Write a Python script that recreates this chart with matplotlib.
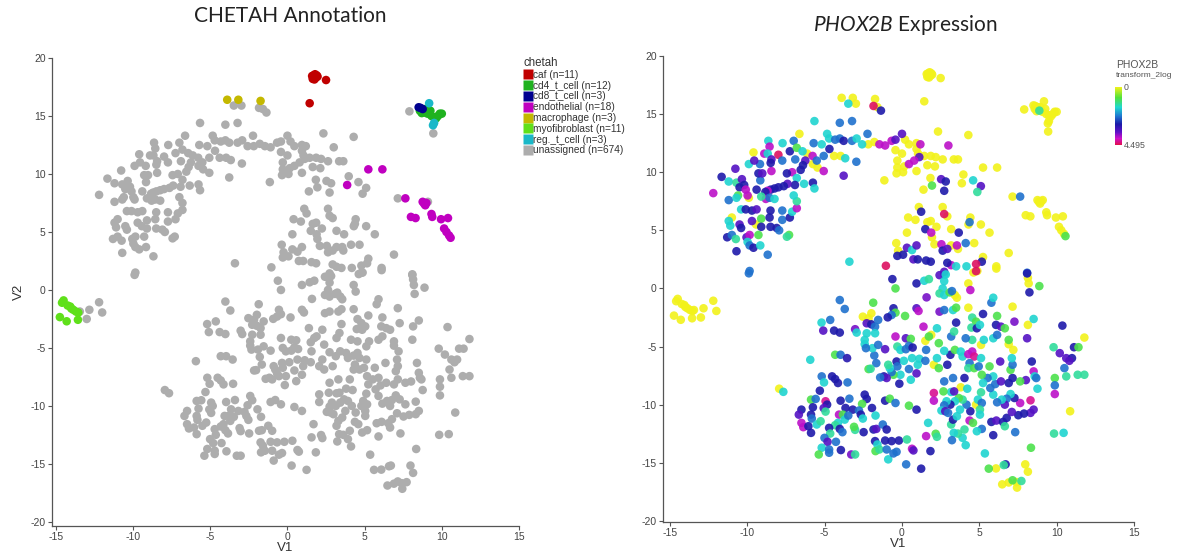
import matplotlib
matplotlib.use('Agg')
import matplotlib.pyplot as plt
from matplotlib.colors import LinearSegmentedColormap, Normalize
from matplotlib.lines import Line2D
import matplotlib.cm as cm

plt.rcParams['font.family'] = ['Liberation Sans', 'DejaVu Sans']
plt.rcParams['mathtext.fontset'] = 'custom'
plt.rcParams['mathtext.rm'] = 'Lato'
plt.rcParams['mathtext.it'] = 'Lato:italic'
plt.rcParams['axes.unicode_minus'] = False

# ---------------- data: (V1, V2, PHOX2B transform_2log) ----------------
caf = [(1.69, 18.5, 0), (1.84, 18.3, 0), (1.64, 18.2, 0), (1.79, 18.6, 0), (1.95, 18.4, 0),
       (1.6, 18.45, 0), (1.75, 18.15, 0), (1.9, 18.5, 0), (2.5, 18.1, 0), (1.44, 16.1, 0), (1.7, 18.35, 0)]
cd4_t_cell = [(8.58, 15.45, 0), (8.88, 15.3, 1.3), (9.08, 15.2, 0), (9.26, 15.45, 0), (9.5, 14.9, 0),
              (9.75, 15.0, 0), (9.87, 15.2, 0), (10.0, 15.2, 0), (9.63, 14.8, 0), (8.93, 15.6, 0),
              (8.7, 15.25, 0), (9.33, 15.0, 0)]
cd8_t_cell = [(8.5, 15.75, 0), (8.76, 15.6, 0), (8.62, 15.7, 0)]
endothelial = [(3.87, 9.05, 0), (5.24, 10.4, 0), (6.15, 10.4, 0), (7.64, 7.9, 2.3), (8.76, 7.6, 0),
               (8.93, 7.3, 0), (8.0, 6.3, 0), (8.3, 6.2, 0), (9.33, 6.55, 0), (9.38, 6.3, 0),
               (9.95, 6.1, 0), (10.4, 6.2, 0), (10.15, 5.3, 0), (10.3, 5.0, 0), (10.47, 4.7, 0),
               (10.57, 4.5, 0.9), (8.85, 7.45, 0), (9.0, 7.5, 0)]
macrophage = [(-3.9, 16.4, 0), (-3.18, 16.4, 0), (-1.74, 16.3, 0)]
myofibroblast = [(-14.5, -0.9, 0), (-14.24, -1.34, 0), (-14.07, -1.43, 0), (-13.87, -1.71, 0),
                 (-13.7, -1.86, 0), (-14.74, -2.34, 0), (-14.3, -2.7, 0), (-13.57, -2.57, 0),
                 (-14.0, -1.6, 0), (-13.55, -1.95, 0), (-14.6, -1.1, 0)]
reg_t_cell = [(9.18, 16.1, 0), (9.43, 14.2, 0), (9.5, 14.4, 0)]

unassigned_arc = [
    (-3.47, 15.9, 1.6), (-2.98, 15.9, 0), (-1.84, 15.7, 4.4), (-1.59, 15.6, 0), (-1.36, 15.3, 2.9),
    (2.33, 13.5, 0), (4.29, 13.2, 0), (3.0, 12.3, 3.9), (-5.66, 14.4, 1.6), (-4.02, 14.25, 2.3),
    (-3.23, 14.4, 2.3), (-6.63, 13.3, 0), (-7.0, 12.7, 2.3), (-7.72, 12.5, 1.6), (-8.64, 12.7, 1.6),
    (-8.56, 12.2, 3.9), (-9.6, 11.7, 0), (-8.9, 11.6, 3.9), (-8.68, 11.6, 1.6), (-7.99, 11.5, 4.4),
    (-8.44, 11.1, 3.4), (-7.74, 11.0, 2.3), (-7.25, 11.8, 2.9), (-6.8, 12.1, 0.9), (-6.43, 11.8, 1.6),
    (-6.13, 11.6, 0), (-5.78, 11.4, 3.9), (-5.71, 12.5, 2.3), (-5.19, 12.4, 1.6), (-4.84, 13.3, 1.6),
    (-4.71, 12.9, 1.6), (-4.32, 12.8, 2.3), (-4.02, 12.9, 2.3), (-3.77, 12.7, 2.9), (-3.23, 12.7, 2.3),
    (-2.93, 12.9, 1.6), (-2.58, 12.4, 1.6), (-2.23, 13.3, 2.3), (-2.18, 12.4, 0), (-1.79, 12.6, 0),
    (-1.46, 12.4, 3.9), (-1.09, 12.3, 3.9), (-0.67, 12.7, 3.9), (-0.42, 12.8, 3.4), (0.0, 13.3, 3.4),
    (0.2, 12.8, 0), (0.45, 12.4, 0), (0.94, 12.5, 0), (1.19, 12.4, 3.9), (0.94, 12.0, 0),
    (1.04, 11.6, 0), (1.12, 11.3, 3.4), (0.79, 11.0, 3.9), (0.45, 10.7, 3.9), (0.15, 10.5, 0),
    (-0.3, 10.4, 0), (-0.3, 11.0, 0), (0.0, 11.6, 0), (-0.42, 11.9, 0), (1.44, 11.4, 0),
    (1.86, 11.4, 0), (2.18, 11.3, 0), (2.63, 11.1, 0), (3.35, 11.1, 0), (3.62, 11.1, 0),
    (1.64, 10.6, 0), (2.13, 10.5, 0), (0.94, 10.1, 0), (0.07, 10.0, 0), (-0.35, 9.9, 0),
    (-1.14, 9.3, 0), (-3.77, 9.7, 3.4), (-2.95, 10.9, 2.3), (-3.67, 11.2, 1.6), (-3.97, 11.4, 0),
    (-4.39, 11.4, 0), (-4.69, 12.0, 2.9), (-5.06, 11.4, 2.3), (-5.51, 11.0, 2.3), (-5.46, 10.4, 0),
    (-5.06, 10.1, 3.9), (-5.76, 10.7, 0), (-6.25, 11.0, 3.4), (-6.4, 10.6, 2.9), (-6.9, 11.1, 2.3),
    (-6.55, 10.2, 2.9), (-7.1, 10.0, 3.9), (-7.44, 9.9, 2.9), (-6.8, 9.5, 1.6), (-6.33, 9.0, 1.6),
    (-5.76, 9.1, 2.9), (-5.66, 8.6, 1.6), (-6.92, 8.9, 2.9), (-7.4, 9.0, 3.4), (-7.64, 8.8, 2.9),
    (-7.99, 8.7, 2.9), (-8.24, 8.6, 2.9), (-8.49, 8.5, 2.9), (-8.69, 8.4, 3.9), (-9.16, 9.3, 2.3),
    (-9.28, 9.9, 2.9), (-9.03, 9.9, 3.4), (-8.44, 10.1, 3.9), (-8.49, 10.8, 2.9), (-9.18, 10.7, 2.3),
    (-9.9, 10.7, 1.6), (-9.55, 11.0, 3.4), (-10.77, 10.3, 3.4), (-11.66, 9.6, 2.9), (-12.2, 8.2, 3.9),
    (-11.2, 9.2, 1.6), (-10.7, 9.1, 1.3), (-10.35, 9.4, 3.4), (-10.2, 8.9, 2.9), (-10.5, 8.7, 2.9),
    (-10.1, 8.5, 3.9), (-9.98, 8.0, 3.9), (-9.4, 8.5, 2.9), (-8.83, 8.3, 2.9), (-8.8, 7.7, 3.9),
    (-8.56, 7.8, 2.3), (-8.24, 7.7, 1.6), (-9.1, 7.9, 1.3), (-10.6, 8.0, 0.9), (-11.2, 7.6, 2.3),
    (-10.7, 7.8, 1.6), (-9.9, 7.8, 0), (-10.4, 6.8, 1.6), (-10.1, 6.8, 2.9), (-9.7, 6.7, 2.9),
    (-9.4, 6.8, 3.4), (-11.0, 6.1, 0), (-11.2, 5.8, 1.6), (-11.1, 5.4, 1.6), (-10.5, 5.5, 3.4),
    (-10.4, 5.2, 2.9), (-9.7, 5.8, 3.4), (-9.43, 5.5, 0), (-9.1, 6.0, 0.9), (-8.56, 6.1, 2.9),
    (-8.5, 6.7, 2.9), (-7.74, 5.9, 2.3), (-7.25, 6.1, 2.9), (-7.1, 6.6, 1.6), (-6.8, 6.9, 3.9),
    (-6.8, 7.5, 1.3), (-7.0, 8.0, 1.6), (-7.74, 6.7, 2.3), (-8.1, 5.2, 2.9), (-7.94, 5.0, 2.3),
    (-8.5, 5.3, 2.9), (-9.1, 5.3, 2.9), (-11.3, 4.4, 2.9), (-11.0, 4.6, 2.3), (-10.74, 4.25, 1.3),
    (-10.05, 4.4, 3.4), (-9.85, 4.6, 3.9), (-9.28, 4.6, 0.9), (-9.98, 4.0, 1.6), (-9.85, 3.7, 2.3),
    (-9.6, 3.5, 2.9), (-9.16, 3.7, 1.6), (-8.68, 2.9, 2.3), (-10.7, 3.2, 2.9), (-7.3, 4.6, 0.9),
    (-7.44, 4.45, 1.3), (-9.85, 1.5, 2.3), (-9.9, 1.3, 2.3),
    (1.39, 8.5, 0), (1.94, 8.85, 0.9), (1.84, 9.5, 0), (2.53, 9.4, 3.4), (2.83, 9.2, 2.9),
    (2.73, 8.4, 2.9), (1.09, 7.0, 0), (1.24, 6.6, 2.9), (2.63, 7.0, 0), (2.73, 6.4, 4.4),
    (0.4, 6.1, 0), (0.87, 5.9, 0), (1.64, 5.7, 0), (1.86, 5.8, 0), (1.51, 5.1, 2.9),
    (1.89, 4.8, 3.9), (2.23, 5.3, 0), (1.94, 4.4, 0), (2.93, 6.2, 0), (3.18, 5.1, 0),
    (3.67, 4.8, 2.9), (4.42, 6.1, 0), (4.37, 5.7, 2.3), (4.3, 5.5, 0), (5.1, 5.5, 0),
    (5.66, 4.8, 0), (0.32, 4.8, 0), (-0.37, 3.9, 0), (-0.25, 3.25, 0), (0.32, 3.5, 3.4),
    (0.65, 3.3, 1.6), (0.94, 3.7, 3.4), (0.74, 2.5, 3.4), (1.02, 2.5, 2.9), (1.56, 2.4, 2.9),
    (1.86, 2.3, 2.9), (-1.04, 1.95, 4.4), (-0.3, 2.8, 2.9), (0.07, 2.9, 2.9), (2.1, 3.8, 0),
    (2.55, 3.8, 3.9), (2.63, 3.25, 2.9), (2.93, 3.4, 3.4), (3.18, 3.7, 0), (3.55, 3.7, 3.9),
    (3.62, 3.4, 0), (4.12, 3.9, 2.3), (4.67, 3.9, 0), (5.24, 2.7, 0), (5.16, 2.3, 2.9),
    (4.79, 2.1, 4.4), (4.17, 1.9, 1.6), (3.18, 2.0, 3.9), (2.93, 2.2, 2.9), (3.5, 1.9, 1.6),
    (6.1, 1.9, 0), (6.9, 3.05, 0), (-3.4, 2.3, 1.6), (2.73, 1.2, 1.6), (4.87, 1.5, 0),
    (8.09, 1.35, 2.3), (7.15, 7.9, 0), (9.1, 7.6, 0), (4.6, 9.3, 1.6), (5.1, 8.8, 3.4),
    (4.87, 8.3, 1.3), (3.97, 9.8, 0), (7.9, 15.4, 0), (9.45, 13.5, 0),
    (-13.45, -1.86, 0), (-12.83, -1.71, 0), (-12.2, -1.06, 0), (-12.0, -1.94, 0), (-13.0, -2.5, 0),
]

unassigned_lower = [
    (-4.02, -1.0, 2.3), (-3.7, -1.77, 2.3), (-5.2, -2.94, 1.6), (-4.64, -2.71, 2.3), (-5.09, -3.63, 3.4),
    (-4.39, -3.63, 2.9), (-4.02, -3.8, 2.9), (-3.03, -3.51, 3.6), (-2.93, -3.8, 1.6), (-5.93, -6.14, 1.6),
    (-4.32, -5.71, 0.9), (-3.97, -5.71, 2.3), (-3.55, -6.0, 3.0), (-5.19, -7.57, 2.3), (-5.04, -8.09, 1.6),
    (-4.52, -7.57, 2.9), (-4.32, -7.8, 2.9), (-4.14, -8.14, 2.9), (-3.52, -8.09, 2.3), (-5.31, -8.8, 2.9),
    (-7.94, -8.63, 0), (-7.67, -8.9, 1.6), (-5.88, -9.57, 0.9), (-5.58, -9.51, 2.3), (-4.94, -9.71, 4.2),
    (-4.84, -10.0, 2.9), (-5.06, -10.3, 3.4), (-4.94, -10.6, 1.3), (-3.97, -9.66, 2.9), (-3.4, -9.49, 2.3),
    (-3.18, -10.43, 2.9), (-3.65, -10.29, 2.9), (-4.07, -10.86, 3.9), (-3.82, -10.86, 0.9), (-3.7, -11.29, 1.6),
    (-3.47, -10.94, 2.3), (-4.14, -11.57, 1.6), (-4.32, -11.77, 1.3), (-4.71, -12.0, 2.9), (-4.02, -12.09, 2.9),
    (-3.85, -12.37, 2.3), (-4.64, -12.49, 1.3), (-5.01, -12.86, 2.3), (-4.81, -13.2, 3.4), (-4.27, -13.2, 2.3),
    (-5.19, -13.71, 1.6), (-4.71, -13.86, 2.3), (-5.38, -14.29, 0.9), (-4.71, -14.14, 2.3), (-3.95, -13.91, 2.9),
    (-3.28, -14.29, 3.6), (-3.03, -14.29, 1.3), (-6.5, -10.43, 2.9), (-6.67, -10.86, 3.4), (-5.88, -10.86, 2.9),
    (-5.83, -11.2, 2.3), (-6.5, -11.57, 3.9), (-6.38, -11.94, 3.9), (-6.05, -11.86, 2.9), (-5.88, -12.43, 2.9),
    (-5.51, -11.71, 1.6), (-5.26, -11.43, 1.3), (-5.76, -10.23, 2.9), (-2.41, -9.14, 2.9), (-2.28, -9.51, 2.9),
    (-2.58, -9.94, 0.9), (-2.78, -10.51, 2.3), (-2.66, -10.86, 2.9), (-2.53, -11.2, 1.6), (-1.94, -10.29, 2.9),
    (-1.71, -10.94, 1.6), (-1.84, -12.14, 2.9), (-1.66, -12.09, 3.4), (-2.48, -12.37, 2.9), (-3.03, -12.17, 1.3),
    (-3.1, -11.91, 0.9), (-1.24, -11.71, 2.3), (-0.99, -12.14, 2.9), (-1.74, -13.14, 2.9), (-1.59, -13.43, 1.6),
    (-1.71, -14.0, 0.9), (-1.46, -13.86, 1.3), (-1.09, -13.09, 2.9), (-0.99, -13.86, 2.3), (-0.89, -14.71, 1.6),
    (-0.67, -13.14, 2.9), (-0.55, -14.2, 2.3), (-0.35, -14.06, 2.3), (-0.2, -13.09, 2.9), (0.32, -13.0, 1.3),
    (0.65, -13.8, 3.9), (0.74, -13.94, 3.4), (0.27, -15.14, 2.3), (1.24, -15.51, 2.9), (1.84, -14.0, 2.9),
    (1.56, -12.71, 3.9), (2.18, -12.51, 0.9), (2.26, -12.77, 1.3), (1.69, -11.57, 1.6), (-1.09, -9.66, 2.9),
    (-0.79, -9.49, 0.9), (-0.42, -9.86, 2.3), (0.45, -10.09, 0.9), (0.94, -10.43, 2.9), (-0.17, -8.2, 2.9),
    (0.57, -7.86, 1.6), (0.45, -6.94, 2.3), (0.94, -7.31, 3.4), (1.12, -6.06, 1.6), (1.51, -6.23, 2.3),
    (1.02, -6.57, 1.6), (0.65, -6.0, 1.6), (-0.35, -6.29, 2.9), (-0.3, -6.71, 2.3), (0.12, -6.23, 1.6),
    (-0.1, -7.43, 1.6), (-0.55, -7.43, 0.9), (-0.67, -7.2, 2.3), (-1.17, -7.57, 2.9), (-0.99, -7.71, 3.4),
    (-1.41, -7.66, 2.3), (-0.79, -6.86, 1.6), (-0.89, -6.57, 1.3), (-2.16, -6.94, 0.9), (-1.66, -6.43, 2.3),
    (-1.79, -5.77, 2.3), (-1.91, -5.14, 1.6), (-1.54, -4.86, 2.3), (-1.09, -5.23, 3.4), (-0.42, -4.14, 3.9),
    (-0.3, -5.0, 1.3), (-0.1, -5.29, 1.6), (0.25, -5.23, 2.3), (0.25, -4.29, 3.4), (0.57, -4.34, 0.9),
    (0.45, -4.94, 2.3), (0.69, -5.09, 2.9), (1.51, -4.51, 0), (1.74, -4.14, 0.9), (1.89, -4.0, 0),
    (1.56, -5.29, 2.3), (1.39, -3.29, 3.9), (-0.55, -1.71, 2.9), (-0.42, -2.09, 0.9), (0.2, -2.37, 0.9),
    (-0.67, -2.29, 2.3), (-0.92, -2.49, 2.9), (-0.62, 0.8, 2.9), (-0.42, 0.0, 0.9), (0.94, 0.43, 2.9),
    (1.44, 0.66, 1.6), (1.74, 0.8, 1.3), (1.59, -0.77, 3.6), (0.94, -1.71, 3.4), (1.07, -1.94, 3.9),
    (-1.86, -1.23, 0.9), (-1.98, -2.14, 0), (-2.16, -2.57, 0), (-2.53, -2.43, 0), (-2.28, -3.0, 3.4),
    (-1.98, -3.09, 2.9), (-1.74, -3.29, 2.3), (-1.54, -2.71, 2.3), (-2.28, -3.86, 1.6), (-1.74, -3.86, 1.6),
    (-2.41, -4.43, 1.6), (-2.41, -4.8, 1.6), (-2.33, -5.14, 2.3), (-2.03, -6.91, 1.3),
    (2.43, 1.14, 3.4), (2.73, 1.43, 3.4), (2.83, 1.2, 1.6), (2.73, 0.63, 1.6), (2.63, 0.0, 1.6),
    (2.43, -0.43, 1.3), (2.73, -0.57, 1.6), (3.08, -0.34, 0.9), (3.42, -0.57, 0), (3.55, -0.8, 0),
    (3.23, -0.23, 2.3), (4.29, 0.43, 0), (4.42, -0.14, 3.9), (4.62, 1.37, 0), (4.79, 1.49, 4.4),
    (6.1, 1.71, 0), (8.09, 1.29, 2.9), (8.14, 0.91, 0), (8.19, 0.43, 0), (8.24, -0.34, 2.9),
    (8.88, 0.2, 0.9), (5.78, -1.23, 2.3), (5.9, -0.8, 1.6), (7.15, -1.57, 0), (2.43, -2.0, 3.6),
    (2.73, -1.86, 2.3), (3.3, -1.86, 1.6), (3.5, -1.66, 0.9), (4.29, -1.66, 0), (5.24, -2.2, 2.9),
    (4.54, -2.51, 1.3), (4.79, -2.86, 0.9), (4.49, -3.37, 1.3), (4.84, -3.43, 2.9), (5.04, -3.14, 1.6),
    (6.15, -2.37, 0.9), (7.27, -2.86, 3.6), (6.08, -3.14, 2.9), (6.4, -3.29, 3.4), (6.65, -3.43, 0.9),
    (4.54, -4.43, 1.3), (4.12, -4.29, 2.3), (5.9, -4.29, 1.6), (6.15, -4.0, 2.3), (6.9, -4.43, 0.9),
    (6.9, -4.8, 0), (7.2, -5.29, 0), (8.09, -4.29, 3.4), (8.14, -3.14, 0), (8.51, -2.63, 1.6),
    (10.37, -3.2, 2.9), (11.79, -4.23, 0), (9.8, -5.06, 1.3), (10.2, -5.57, 3.4), (10.62, -6.0, 3.4),
    (10.99, -6.0, 2.9), (10.82, -6.23, 3.4), (11.12, -5.06, 2.9), (11.41, -5.06, 0.9), (10.5, -6.86, 2.3),
    (10.62, -7.57, 1.3), (11.36, -7.43, 1.3), (11.79, -7.43, 1.3), (9.88, -7.71, 0.9), (9.88, -8.34, 2.3),
    (9.88, -9.09, 3.9), (8.39, -6.29, 2.9), (8.51, -7.14, 3.9), (8.58, -7.57, 1.6), (8.68, -7.71, 2.3),
    (8.76, -8.63, 1.6), (8.01, -7.89, 3.4), (7.64, -8.0, 0.9), (8.31, -9.63, 4.2), (8.51, -10.43, 3.4),
    (8.31, -10.71, 3.4), (7.89, -10.77, 2.9), (7.52, -10.91, 2.9), (10.87, -10.57, 0), (9.83, -12.49, 1.3),
    (10.45, -12.43, 1.6), (8.34, -13.71, 0.9), (7.32, -12.37, 2.3), (7.97, -15.14, 0), (8.14, -15.77, 0),
    (7.72, -16.57, 1.3), (7.4, -16.66, 0), (7.15, -16.51, 0.9), (6.9, -16.7, 0), (6.48, -16.86, 0),
    (7.44, -17.14, 0), (6.7, -15.14, 2.9), (6.58, -15.2, 1.3), (6.08, -15.49, 0), (5.61, -15.51, 0.9),
    (5.36, -14.2, 1.6), (5.9, -12.63, 2.9), (5.16, -12.09, 2.3), (4.84, -12.29, 1.6), (4.04, -12.14, 1.3),
    (4.12, -13.49, 1.6), (3.92, -12.86, 1.6), (3.62, -12.49, 1.3), (3.35, -12.43, 1.6), (3.23, -13.06, 2.3),
    (3.18, -11.71, 1.3), (3.3, -11.29, 2.9), (3.55, -11.0, 1.6), (4.37, -11.37, 3.9), (4.59, -11.57, 0.9),
    (5.78, -11.49, 2.9), (6.1, -11.37, 3.4), (6.53, -11.49, 2.9), (6.65, -11.86, 1.3), (6.77, -11.14, 2.9),
    (7.1, -10.63, 3.4), (7.64, -9.86, 3.9), (7.27, -9.43, 2.9), (7.02, -9.09, 1.6), (6.77, -9.49, 2.3),
    (6.65, -10.0, 3.4), (6.45, -9.57, 1.6), (6.15, -9.8, 2.3), (5.9, -9.14, 1.6), (5.71, -8.57, 2.3),
    (6.03, -8.23, 2.3), (6.4, -8.0, 3.4), (6.9, -8.14, 2.9), (7.15, -7.71, 2.9), (7.02, -7.0, 0.9),
    (7.15, -6.57, 2.3), (7.1, -6.0, 1.6), (6.35, -6.29, 3.4), (5.66, -6.71, 0.9), (5.9, -7.57, 1.6),
    (5.53, -7.71, 2.3), (5.16, -7.43, 0.9), (5.24, -8.14, 1.6), (5.11, -8.94, 1.3), (4.91, -9.57, 1.6),
    (5.16, -9.86, 2.3), (4.79, -10.0, 0), (5.04, -10.43, 1.3), (5.04, -10.86, 1.6), (4.42, -10.57, 2.9),
    (4.17, -10.0, 2.3), (3.92, -9.57, 1.3), (3.67, -9.43, 0.9), (3.42, -9.71, 1.6), (3.13, -10.0, 2.9),
    (2.88, -9.71, 1.6), (2.73, -10.06, 2.3), (2.55, -10.51, 1.6), (2.8, -10.57, 3.4), (2.98, -10.71, 2.3),
    (3.75, -10.43, 1.6), (3.18, -8.91, 1.6), (3.37, -8.86, 3.4), (3.8, -8.51, 0), (4.22, -8.63, 1.6),
    (4.04, -7.71, 2.9), (3.3, -7.71, 2.3), (2.73, -8.0, 2.3), (2.68, -8.86, 0.9), (2.06, -9.0, 4.2),
    (2.06, -9.66, 3.9), (2.38, -6.86, 0.9), (2.06, -6.57, 0), (2.26, -6.0, 1.6), (2.93, -6.57, 2.9),
    (3.13, -5.71, 2.9), (3.42, -5.29, 0.9), (3.8, -5.43, 1.6), (3.92, -5.86, 1.6), (4.29, -5.66, 3.9),
    (4.54, -5.43, 3.9), (4.67, -5.86, 4.2), (4.37, -6.43, 2.3), (4.29, -6.86, 1.3), (4.67, -6.86, 0.9),
    (4.96, -6.71, 2.3), (5.11, -6.0, 1.6), (5.29, -4.43, 1.6), (5.11, -4.86, 0), (3.18, -4.14, 2.3),
    (3.37, -3.71, 1.3), (3.5, -2.94, 2.9), (2.38, -4.71, 0.9), (2.73, -5.37, 1.6), (2.26, -3.43, 1.6),
]

cell_types = ['caf', 'cd4_t_cell', 'cd8_t_cell', 'endothelial', 'macrophage',
              'myofibroblast', 'reg._t_cell', 'unassigned']
cell_counts = [11, 12, 3, 18, 3, 11, 3, 674]
type_colors = ['#c00000', '#1fb21f', '#00008f', '#c000c0', '#c4b800', '#5fe01a', '#1ab8c8', '#adadad']
type_points = [caf, cd4_t_cell, cd8_t_cell, endothelial, macrophage, myofibroblast, reg_t_cell,
               unassigned_arc + unassigned_lower]

x_ticks = [-15, -10, -5, 0, 5, 10, 15]
y_ticks = [-20, -15, -10, -5, 0, 5, 10, 15, 20]
expr_min, expr_max = 0, 4.495

# ---------------- figure ----------------
W, H = 1189, 553
fig = plt.figure(figsize=(W / 100, H / 100), dpi=100)
fig.patch.set_facecolor('white')


def px_axes(x0, y0, x1, y1):
    return fig.add_axes([x0 / W, 1 - y1 / H, (x1 - x0) / W, (y1 - y0) / H])


def style_axes(ax, xlim, ylim):
    ax.set_xlim(*xlim)
    ax.set_ylim(*ylim)
    ax.set_xticks(x_ticks)
    ax.set_yticks(y_ticks)
    for s in ['top', 'right']:
        ax.spines[s].set_visible(False)
    for s in ['left', 'bottom']:
        ax.spines[s].set_color('#555555')
        ax.spines[s].set_linewidth(0.9)
    ax.tick_params(direction='out', length=3, width=0.8, colors='#555555',
                   labelsize=7.5, labelcolor='#444444', pad=1.5)
    ax.set_facecolor('white')


axL = px_axes(52, 58, 519, 526)
style_axes(axL, (-15.25, 15), (-20.35, 20))
# unassigned first, then annotated types on top
order = [7, 0, 1, 2, 3, 4, 5, 6]
for i in order:
    pts = type_points[i]
    axL.scatter([p[0] for p in pts], [p[1] for p in pts], s=38, c=type_colors[i],
                edgecolors='none', zorder=2 if i == 7 else 3)
axL.set_xlabel('V1', fontsize=9.5, color='#333333', labelpad=-0.5)
axL.set_ylabel('V2', fontsize=9.5, color='#333333', labelpad=4)

handles = [Line2D([], [], marker='s', linestyle='none', markersize=7.5,
                  markerfacecolor=c, markeredgecolor='none') for c in type_colors]
labels = [f'{n} (n={k})' for n, k in zip(cell_types, cell_counts)]
leg = axL.legend(handles, labels, title='chetah', loc='upper left',
                 bbox_to_anchor=(524 / W, 1 - 57 / H), bbox_transform=fig.transFigure,
                 frameon=False, fontsize=7.3, title_fontsize=8.3, handlelength=0.7,
                 handletextpad=0.15, labelspacing=0.08, borderpad=0, borderaxespad=0,
                 alignment='left')
for t in leg.get_texts():
    t.set_color('#333333')
leg.get_title().set_color('#333333')

# right panel
cmap = LinearSegmentedColormap.from_list('phox', [
    (0.0, '#f2f21a'), (0.18, '#52e23a'), (0.35, '#1fd8d0'), (0.5, '#1f78d0'),
    (0.64, '#1a1aa8'), (0.78, '#6010c8'), (0.89, '#d010c8'), (1.0, '#e0104a')])
norm = Normalize(expr_min, expr_max)

axR = px_axes(663, 56, 1134, 522)
style_axes(axR, (-15.45, 15), (-20.1, 20))
all_pts = []
for pts in type_points:
    all_pts += pts
all_pts_sorted = sorted(all_pts, key=lambda p: p[2] > 0)
axR.scatter([p[0] for p in all_pts_sorted], [p[1] for p in all_pts_sorted], s=38,
            c=[p[2] for p in all_pts_sorted], cmap=cmap, norm=norm, edgecolors='none',
            alpha=0.9, zorder=3)
axR.set_xlabel('V1', fontsize=9.5, color='#333333', labelpad=-0.5)

cax = fig.add_axes([1115 / W, 1 - 145 / H, 7 / W, 58 / H])
cb = fig.colorbar(cm.ScalarMappable(norm=norm, cmap=cmap), cax=cax)
cb.outline.set_visible(False)
cax.invert_yaxis()
cb.set_ticks([expr_min, expr_max])
cb.set_ticklabels(['0', '4.495'])
cax.tick_params(length=0, labelsize=6.3, labelcolor='#555555', pad=1)
fig.text(1116 / W, 1 - 68 / H, 'PHOX2B', fontsize=7.5, color='#555555', ha='left')
fig.text(1116 / W, 1 - 77 / H, 'transform_2log', fontsize=6.0, color='#555555', ha='left')

# titles
fig.text(290 / W, 1 - 16 / H, 'CHETAH Annotation', fontsize=15, color='#222222',
         ha='center', va='center', family='Lato')
fig.text(905 / W, 1 - 25 / H, r'$\mathit{PHOX2B}$ Expression', fontsize=15, color='#222222',
         ha='center', va='center', family='Lato')

fig.savefig('out.png', dpi=100, facecolor='white')
